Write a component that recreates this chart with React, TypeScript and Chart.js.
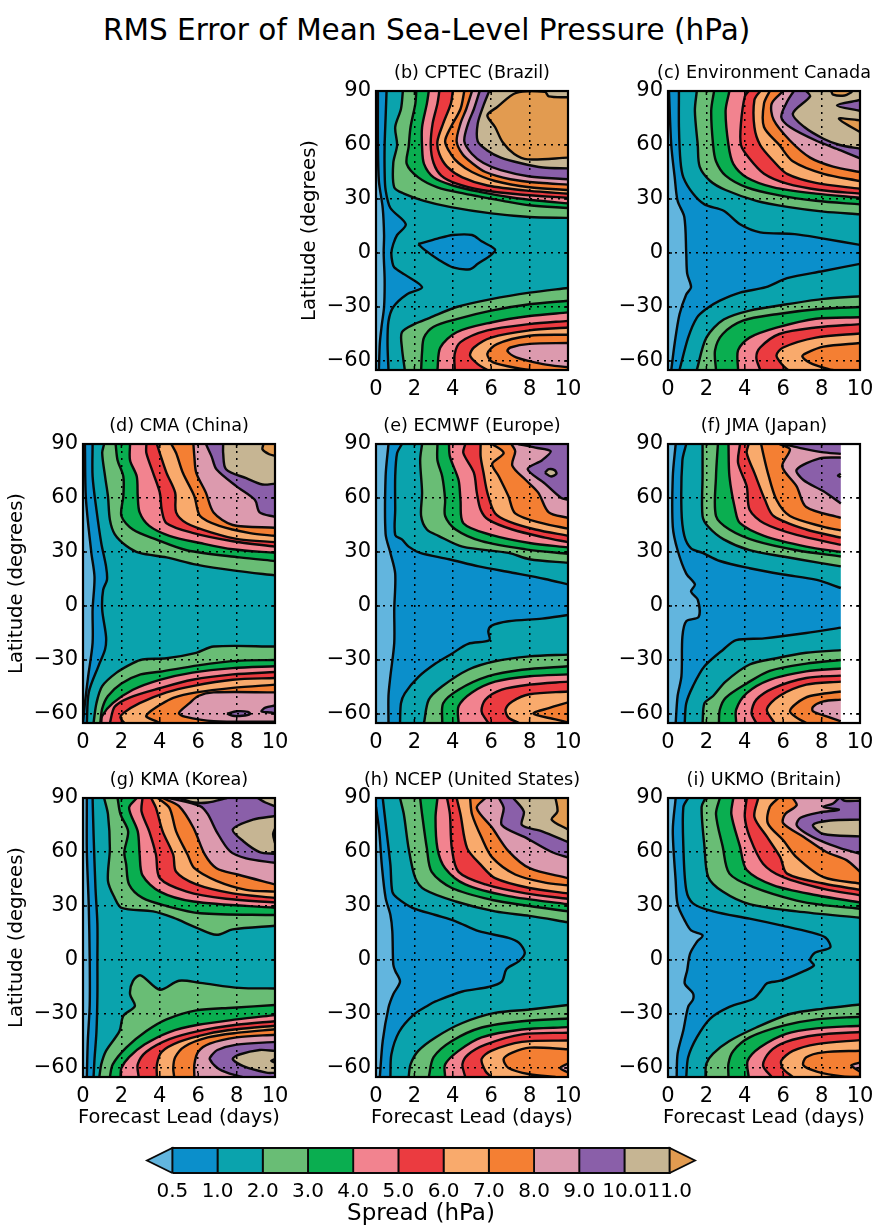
import React, { useEffect, useRef } from 'react';
import { Chart, registerables } from 'chart.js';

Chart.register(...registerables);

type Contour = [number, number[]];

const FONT = '"DejaVu Sans"';
const NO_DATA = 99;

const leadTicks = [0, 2, 4, 6, 8, 10];
const latTicks = [-60, -30, 0, 30, 60, 90];
const levels = [0.5, 1, 2, 3, 4, 5, 6, 7, 8, 9, 10, 11];
const underColor = '#62b5de';
const bandColors = ['#0b8fcb', '#0aa3ad', '#69bd75', '#0aae50', '#f2838f', '#eb3b40', '#f9aa6c', '#f47f33', '#dc9aae', '#8a5fa9', '#c6b593', '#e29b50'];

// each contour is [level, lead, lat, lead, lat, ...]
const cptec: Contour[] = [
	[0.5, [0.1, 90, 0.1, 60, 0.15, 40, 0.35, 25, 0.42, 10, 0.4, 0, 0.45, -15, 0.42, -30, 0.3, -40, 0.2, -50, 0.15, -65]],
	[1, [0.55, 90, 0.5, 75, 0.45, 60, 0.45, 45, 0.5, 35, 0.75, 25, 1.55, 16, 1.1, 10, 0.9, 5, 0.8, 0, 0.85, -5, 0.95, -8, 1.5, -12, 2.4, -19, 1.6, -23, 0.9, -30, 0.65, -38, 0.6, -50, 0.65, -65]],
	[0.5, [2.2, 5, 3.2, 8, 4, 10, 5, 10, 5.5, 6.5, 6.2, 2, 6, -1, 5.3, -6, 4.9, -9, 4, -8, 3.3, -4, 2.5, 2, 2.2, 5]],
	[2, [1.4, 90, 1.3, 80, 1, 70, 1.1, 60, 0.9, 50, 0.95, 36.5, 1.45, 33, 2.5, 29, 3.9, 25.5, 6, 22, 8, 20, 10, 19.5]],
	[2, [10, -19.4, 8, -22, 6, -25.6, 4.2, -30, 2.8, -36, 2, -39.5, 1.35, -44, 1.35, -52.5, 1.5, -65]],
	[3, [2.1, 90, 2.05, 83, 1.8, 70, 1.7, 59, 1.6, 49.5, 2.2, 42, 3.2, 36.5, 4.6, 33, 6.6, 29, 8, 26.5, 10, 25]],
	[3, [10, -26.5, 8, -28.5, 6, -32, 4.2, -36.7, 3, -41, 2.5, -47, 2.4, -55, 2.35, -65]],
	[4, [2.75, 90, 2.65, 83, 2.4, 70, 2.4, 59, 2.5, 49.5, 3, 42, 4, 37.5, 5.4, 34, 7, 31, 8.5, 29, 10, 27.6]],
	[4, [10, -33, 8, -35, 6, -38.6, 4.2, -44, 3.35, -52.5, 3.2, -65]],
	[5, [3.3, 90, 3.2, 83, 2.95, 72, 2.85, 60, 3, 50, 3.4, 43, 4.2, 38.5, 5.5, 35, 7.5, 32.5, 10, 30.6]],
	[5, [10, -37.7, 8, -39.5, 5.8, -43, 4.4, -49.5, 4.1, -56, 4.1, -65]],
	[6, [4, 90, 3.9, 83, 3.5, 72, 3.2, 62, 3.3, 55, 3.7, 48, 4.5, 42, 5.8, 37.5, 8, 34.5, 10, 33]],
	[6, [10, -41.4, 8, -43, 6, -47, 5.1, -52.5, 4.9, -57, 5.3, -61.7, 5.8, -65]],
	[7, [4.6, 90, 4.4, 80, 3.9, 70, 3.6, 62, 3.9, 55, 4.3, 50, 5, 45, 6.2, 40, 8, 36.5, 10, 35]],
	[7, [10, -45.4, 8, -46, 6.3, -50.6, 5.8, -56, 6.1, -60.8, 7.7, -64.6, 8, -65]],
	[8, [5, 90, 4.7, 80, 4.4, 72, 4.2, 62, 4.5, 55, 5, 50, 5.7, 45, 7, 41, 8.5, 39, 10, 38]],
	[8, [10, -50, 8, -50.5, 7, -52.5, 6.85, -54.5, 7.3, -58, 8.7, -61.7, 10, -63.5]],
	[9, [5.4, 90, 5.1, 80, 4.8, 72, 4.6, 62, 5, 55, 5.6, 50, 6.5, 46, 8, 42.5, 10, 41]],
	[10, [5.9, 90, 5.6, 82, 5.3, 72, 5.3, 62, 5.8, 57, 6.5, 53, 7.5, 50, 8.7, 47.5, 10, 47]],
	[11, [10, 86.5, 9, 87, 8.8, 89.5, 7.3, 89, 6.3, 81, 5.8, 76.5, 6.2, 70, 6.6, 61.5, 7.2, 55, 7.9, 52, 10, 53]],
];

const canada: Contour[] = [
	[0.5, [0.05, 90, 0.17, 60, 0.35, 42, 0.5, 29, 0.85, 20, 0.95, 0, 1, -11.5, 1.2, -19, 0.95, -23, 0.6, -34, 0.35, -50, 0.17, -65]],
	[1, [0.57, 90, 0.57, 70, 0.65, 51, 0.8, 42, 1.3, 33, 1.9, 27, 2.9, 23.5, 3.75, 16, 4.8, 11.5, 6.6, 10.5, 8.1, 8, 10, 4.5]],
	[1, [10, -6, 8.1, -10, 6.2, -14, 5.1, -19, 3.75, -22, 2.7, -26.5, 2, -31, 1.5, -36, 1.05, -47, 0.6, -65]],
	[2, [1.5, 90, 1.4, 79, 1.55, 60, 1.65, 48, 2.2, 40, 3, 35, 4.6, 29, 6.3, 25.5, 8.1, 23, 10, 21.5]],
	[2, [10, -24, 8.1, -25.5, 6.2, -28.5, 4.25, -32, 2.9, -37, 2, -47, 1.5, -65]],
	[3, [2.4, 90, 2.25, 79, 2.35, 60, 2.5, 51, 3, 43, 4.1, 36.5, 5.8, 32, 7.7, 29, 10, 27]],
	[3, [10, -30, 8, -31, 5.65, -34, 3.9, -37.6, 2.85, -45, 2.45, -54, 2.5, -65]],
	[4, [3.2, 90, 3, 79, 3.15, 60, 3.4, 49.5, 4.1, 42, 5.5, 36.5, 7.7, 33, 10, 30.7]],
	[4, [10, -35.7, 7.7, -36.5, 5.65, -41.5, 4.25, -47, 3.65, -54, 3.65, -65]],
	[5, [4.2, 90, 4, 87, 3.8, 72, 3.8, 60, 4.2, 53, 5, 44, 6.2, 38.5, 7.9, 35, 10, 33]],
	[5, [10, -39.5, 7.7, -41.4, 5.8, -45, 4.8, -52.5, 4.6, -58, 4.8, -65]],
	[6, [4.8, 90, 4.5, 85, 4.5, 70, 4.8, 60, 5.5, 51, 6.2, 44, 7.7, 39, 10, 35.7]],
	[6, [10, -44.7, 7.7, -47, 6, -52.5, 5.65, -57, 6, -62.7, 6.25, -65]],
	[7, [5.3, 90, 5, 83, 5, 70, 5.8, 60, 6.5, 51, 8.1, 44, 10, 40]],
	[7, [10, -50, 8.1, -52, 7.2, -55.6, 7, -57.5, 7.4, -61, 8.4, -64.7, 8.6, -65]],
	[8, [6, 90, 5.4, 83, 5.5, 74, 6.35, 62.5, 7.4, 53, 8.6, 48, 10, 45]],
	[9, [6.55, 90, 6.2, 84, 5.9, 75.5, 6.35, 70, 7.7, 62.5, 9, 57, 10, 52.5]],
	[10, [7.2, 90, 7.4, 87, 6.5, 77.4, 7.1, 70, 8.1, 63.5, 8.95, 60, 10, 58]],
	[11, [8.5, 90, 8.6, 88, 9.2, 87.5, 9.5, 89, 9.6, 90]],
	[9, [10, 85, 8.8, 82, 10, 79]],
	[11, [10, 73.7, 8.9, 74.6, 10, 67.2]],
];

const cma: Contour[] = [
	[0.5, [0.1, 90, 0.15, 60, 0.43, 30, 0.6, 16, 0.5, -2, 0.5, -20.5, 0.27, -39, 0.1, -54, 0, -65]],
	[1, [0.5, 90, 0.5, 72, 0.7, 53.5, 0.95, 35, 1.2, 22, 1.25, 14.6, 1.05, 9, 1, -2, 1.2, -17, 1.15, -24, 0.8, -33.5, 0.3, -48, 0.2, -65]],
	[2, [1.1, 90, 1, 85, 1.15, 72, 1.3, 61, 1.4, 48, 1.65, 40, 2.25, 33.5, 2.95, 29.5, 4.35, 27, 5.9, 23, 8, 19.5, 10, 17]],
	[2, [10, -22.5, 6.8, -22.5, 5.9, -26, 4.35, -29, 3.1, -29.7, 2.6, -31.7, 1.75, -37, 1, -44.5, 0.7, -54, 0.55, -65]],
	[3, [1.7, 90, 1.8, 81, 2.1, 72, 2.1, 61, 2, 50, 2.6, 42.5, 3.8, 37, 5.4, 31, 8.15, 27, 10, 25]],
	[3, [10, -30, 8, -30.5, 6, -33, 4, -36.5, 3, -38, 2, -43, 1.3, -50, 1, -57, 0.9, -65]],
	[4, [2.45, 90, 2.45, 81, 2.8, 72, 2.85, 61, 2.95, 52, 3.45, 44.5, 4.5, 39, 6.1, 35, 7.8, 31.5, 10, 29.5]],
	[4, [10, -33.5, 7.8, -34.5, 5.7, -37, 4, -41, 2.6, -46.5, 1.55, -54, 1, -61, 0.95, -65]],
	[5, [3.3, 90, 3.3, 85, 3.65, 74, 4, 63, 4.1, 53.5, 4.35, 46, 5.75, 40.5, 7.8, 36, 10, 33]],
	[5, [10, -36.7, 7.8, -38, 5.7, -41, 4, -45.7, 2.4, -51, 1.65, -56, 1.4, -65]],
	[6, [3.85, 90, 4, 85, 4.35, 74, 4.8, 63, 4.85, 52, 5.4, 46, 6.8, 40.5, 8.15, 37, 10, 35.5]],
	[6, [10, -40, 7.8, -41, 5.7, -44.5, 4.35, -48, 2.95, -54, 2.1, -59.5, 1.95, -62, 2.15, -65]],
	[7, [4.6, 90, 4.85, 85, 5.2, 74, 5.8, 61, 6.1, 50, 7.1, 44.5, 8.7, 40.5, 10, 39]],
	[7, [10, -43.7, 7.8, -45.5, 5.9, -48, 4.7, -51, 4, -55, 3.4, -59.5, 3.3, -61.5, 3.8, -64, 4, -65]],
	[8, [5.75, 90, 5.8, 83, 5.9, 74, 6.4, 63, 6.8, 52, 7.8, 45, 10, 43.5]],
	[8, [10, -48, 6.8, -48, 6, -50, 5.55, -54, 5, -59.5, 5.3, -61.5, 6.8, -64, 10, -64.3]],
	[9, [6.4, 90, 6.7, 83, 6.95, 76, 8, 66.5, 8.95, 59, 9.2, 52, 10, 49.5]],
	[9, [7.5, -59.8, 8, -58.5, 8.6, -58.8, 8.7, -60, 8.3, -61, 7.8, -61, 7.5, -59.8]],
	[9, [10, -55.3, 9.5, -56.5, 9.3, -58.5, 9.8, -59.2, 10, -59.5]],
	[10, [7.3, 90, 7.3, 85, 7.45, 76, 8.5, 71, 9.35, 67.5, 10, 68]],
	[11, [9.4, 90, 9.35, 87, 9.7, 84.3, 10, 83.5]],
];

const ecmwf: Contour[] = [
	[0.5, [0.65, 90, 0.5, 72, 0.5, 40, 0.75, 29.5, 1, 18, 0.95, -2, 0.95, -20.5, 0.75, -39, 0.65, -50, 0.65, -65]],
	[1, [1.35, 90, 1.1, 85, 1, 72, 1, 53.5, 1, 39.5, 1.35, 37, 1.7, 33, 2.3, 29.5, 3.8, 26, 5.35, 22, 7.1, 18.5, 8.8, 15, 10, 12]],
	[1, [10, -5, 8.65, -7, 6.9, -8.5, 6, -11, 5.85, -14, 5.9, -19, 4.8, -21, 3.95, -26.5, 3.1, -32, 2.2, -39.5, 1.5, -48.5, 1.3, -54, 1.25, -65]],
	[2, [2.4, 90, 2.3, 81, 2.4, 63, 2.35, 50, 2.65, 42.5, 3.25, 39, 4.5, 33, 6.9, 29.5, 8, 26, 10, 24]],
	[2, [10, -27, 8, -28, 6.2, -30.7, 4.8, -35.4, 3.45, -44.6, 2.75, -52, 2.5, -65]],
	[3, [3.2, 90, 3.2, 81, 3.45, 72, 3.6, 59, 3.6, 50, 4.15, 42.5, 5.5, 36, 7.8, 31.5, 10, 29]],
	[3, [10, -33.5, 7.6, -35.4, 5.85, -39, 4.3, -46.5, 3.5, -54, 3.45, -65]],
	[4, [3.8, 90, 3.85, 83, 4.3, 70, 4.4, 59, 4.55, 46, 6, 39.5, 8, 35, 10, 32.6]],
	[4, [10, -38, 8, -39, 6.2, -42, 5, -48, 4.3, -55.7, 4.3, -65]],
	[5, [4.65, 90, 4.55, 85, 5.1, 74, 5.25, 63, 5.45, 53.5, 5.85, 48, 7.1, 42.5, 8.8, 38, 10, 35.5]],
	[5, [10, -42, 8, -43.7, 6.55, -46.5, 5.7, -52, 5.5, -58.5, 5.85, -65]],
	[6, [5.45, 90, 5.45, 83, 5.6, 74, 5.8, 63, 6.2, 51.5, 6.9, 47, 8.3, 42.5, 10, 39]],
	[6, [10, -47.5, 8, -49, 7.1, -53, 6.75, -57.5, 6.9, -62, 7.45, -65]],
	[7, [6.05, 90, 6.65, 85, 6.05, 79, 6.4, 72, 6.9, 61, 7.25, 51.5, 8.65, 46, 10, 43]],
	[7, [10, -53.5, 9, -56.7, 8.2, -59.8, 9.35, -63, 10, -64.7]],
	[8, [7.05, 90, 7.25, 86, 7.1, 78, 7.8, 70, 8.45, 63, 9, 52, 10, 49]],
	[9, [7.4, 90, 8.3, 88, 9.1, 86, 8.65, 81, 7.9, 76, 8.8, 68, 9.65, 60, 10, 59]],
	[10, [8.8, 74, 9, 76, 9.3, 75.5, 9.4, 73.5, 9.1, 72, 8.8, 74]],
];

const jma: Contour[] = [
	[0.5, [0.4, 90, 0.25, 72, 0.25, 44, 0.5, 31, 0.95, 18, 1.4, 12, 1.2, 8, 1.55, 3.5, 1.6, -6, 0.95, -8.5, 0.75, -17, 0.7, -39, 0.5, -50, 0.4, -65]],
	[1, [0.95, 90, 0.75, 81, 0.7, 53.5, 0.85, 39, 1.2, 32, 1.8, 29.5, 2.7, 25, 4.25, 21, 6, 17.5, 7.75, 14.5, 9, 10]],
	[1, [9, -12, 7.2, -15, 5, -18, 3.55, -19, 2.9, -24, 1.9, -33.5, 1.3, -44.5, 0.95, -54, 0.87, -65]],
	[2, [1.8, 90, 1.8, 72, 1.8, 50, 2.1, 44, 2.9, 37, 4.25, 31, 6, 27.5, 7.9, 24, 9, 22]],
	[2, [9, -24.5, 7.2, -26, 5.65, -29, 4.25, -32.5, 3, -42, 2.35, -50, 1.9, -54, 1.8, -65]],
	[3, [2.6, 90, 2.5, 72, 2.5, 50, 3.2, 42.5, 4.6, 36, 6.7, 31, 9, 27.5]],
	[3, [9, -30, 7.2, -32, 5.3, -36, 4.1, -43, 3, -51, 2.7, -57.5, 2.65, -65]],
	[4, [3.15, 90, 3.2, 72, 3.5, 53.5, 3.75, 46, 5, 39, 7.2, 33, 9, 30]],
	[4, [9, -34.7, 7.2, -36.3, 5.3, -41, 4.1, -48.4, 3.55, -57.5, 3.55, -65]],
	[5, [3.75, 90, 3.65, 79.5, 4.1, 66.5, 4.25, 53.5, 5, 46, 6.7, 39.5, 9, 34]],
	[5, [9, -38.7, 7.2, -40, 5.5, -45.6, 4.6, -52, 4.35, -59.5, 4.6, -65]],
	[6, [4.2, 90, 4.1, 85, 4.5, 74, 5.05, 59, 5.5, 50, 7.2, 42.5, 9, 38]],
	[6, [9, -42, 7.2, -43.7, 5.8, -50, 5.15, -57.5, 5.55, -65]],
	[7, [4.85, 90, 4.95, 85, 5.2, 74, 5.65, 59, 6.35, 50, 8.1, 44, 9, 42]],
	[7, [9, -47.5, 7.4, -50, 6.7, -54, 6.35, -58.5, 6.7, -62, 7.2, -65]],
	[8, [5.8, 90, 6.35, 87, 5.95, 77.5, 6.7, 66.5, 7.2, 55, 9, 49]],
	[8, [9, -52, 8.1, -53, 7.55, -56, 7.55, -58.5, 8.45, -62, 9, -64]],
	[9, [5.95, 90, 6.8, 88, 8, 85.5, 9, 84.5]],
	[9, [9, 82.5, 7.9, 82, 6.7, 75.7, 7.05, 70, 8.1, 63.7, 9, 57]],
	[10, [9, 73.5, 8.85, 72.5, 9, 71.5]],
	[NO_DATA, [9, 95, 11, 95, 11, -70, 9, -70, 9, 95]],
];

const kma: Contour[] = [
	[0.5, [0.2, 90, 0.2, 60, 0.3, 30, 0.35, 0, 0.35, -25, 0.25, -45, 0.2, -65]],
	[1, [0.5, 90, 0.55, 70, 0.65, 40, 0.75, 20, 0.75, 0, 0.75, -20, 0.7, -40, 0.6, -55, 0.55, -65]],
	[2, [1.1, 90, 1.3, 81, 1.4, 62, 1.3, 44, 1.65, 34.5, 2, 29, 3.65, 27, 4.7, 23.5, 5.9, 18, 6.95, 14, 7.8, 17, 10, 19]],
	[2, [10, -15.8, 8.15, -15.5, 6.1, -12.7, 5, -11.5, 4, -16.5, 3, -8.5, 2.6, -11.7, 2.45, -19, 2.7, -25.6, 2.1, -31, 1.9, -39.5, 1.2, -50.5, 0.95, -58, 0.85, -65]],
	[3, [1.8, 90, 1.95, 81, 2.35, 71.5, 2.15, 60, 2.25, 53, 2.4, 42, 3.1, 34.5, 4.35, 30, 6.1, 26, 10, 25]],
	[3, [10, -25, 7.8, -26.5, 5.9, -28, 4.35, -33, 3.3, -39.5, 2.25, -48.7, 1.55, -58, 1.4, -65]],
	[4, [2.8, 90, 2.4, 84.5, 2.85, 71.5, 2.95, 58.5, 3.1, 47, 4, 38, 5.75, 32.5, 10, 29]],
	[4, [10, -30.6, 8, -33, 6, -36, 4.5, -40, 3.2, -47, 2.4, -54, 2, -60, 1.95, -65]],
	[5, [3.1, 90, 3.05, 82.5, 3.45, 71.5, 3.8, 58.5, 4, 45.5, 5.4, 38, 7.45, 34, 10, 32]],
	[5, [10, -34, 8, -36, 6, -39.5, 4.5, -44, 3.3, -51, 2.85, -58, 2.9, -65]],
	[6, [3.55, 90, 3.8, 84.5, 4.15, 71.5, 4.7, 58.5, 4.85, 49, 5.9, 42, 7.8, 37, 10, 34.5]],
	[6, [10, -36.5, 8, -38.5, 6.5, -41, 5, -45.5, 4.1, -51, 3.85, -58, 3.85, -65]],
	[7, [3.9, 90, 4.5, 84.5, 4.85, 71.5, 5.45, 58.5, 5.8, 51, 6.95, 44, 8.5, 39, 10, 38]],
	[7, [10, -38.5, 8, -40.5, 6.5, -43, 5.3, -48, 4.8, -54, 4.7, -60, 4.75, -65]],
	[8, [4.15, 90, 5, 85.5, 5.75, 73.5, 6.35, 58.5, 6.95, 51, 8.05, 47.5, 10, 42]],
	[8, [10, -41.5, 8, -43, 6.6, -46.5, 6, -51, 5.8, -58, 5.8, -65]],
	[9, [4.5, 90, 6.1, 85.5, 6.5, 81, 6.95, 71.5, 7.65, 60.5, 8.5, 56.5, 10, 54]],
	[9, [10, -45.5, 8, -47, 7, -50, 6.7, -53, 6.6, -55, 7, -60, 7.6, -63, 8.3, -65]],
	[10, [5, 90, 5.8, 87.5, 6.5, 87.5, 7.5, 90]],
	[10, [9.1, 90, 9.5, 87.5, 10, 85.5]],
	[10, [10, 80, 8.85, 78, 7.8, 72.5, 8.35, 66, 9.2, 60, 10, 59]],
	[10, [10, -50.5, 9.2, -50, 8.15, -52.5, 7.8, -55, 8.35, -59, 9.55, -62.6, 10, -62.7]],
	[11, [10, 73, 9.9, 70, 10, 65]],
	[11, [10, -55, 9.8, -56, 10, -57]],
];

const ncep: Contour[] = [
	[0.5, [0, 85, 0.17, 71.5, 0.3, 53, 0.5, 34.5, 0.75, 25, 0.85, 16, 0.9, -2.5, 1, -6, 1.25, -12, 0.9, -19, 0.65, -26.5, 0.35, -45, 0.2, -65]],
	[1, [0.35, 90, 0.55, 71.5, 0.75, 53, 0.85, 38, 1.1, 34.5, 1.9, 29, 3.1, 25, 4.15, 21.5, 5.35, 16, 6.9, 12.3, 7.45, 9.5, 7.75, 4, 7.45, -0.6, 6.8, -5, 6.55, -12, 5.85, -15, 4.5, -17.5, 3.1, -23, 2.75, -25, 1.95, -30.5, 1.2, -40, 0.8, -52.5, 0.75, -65]],
	[2, [1.25, 90, 1.45, 81, 1.7, 62, 2.05, 45.5, 2.55, 39, 4.15, 32.5, 6.2, 27, 8, 24.5, 10, 21]],
	[2, [10, -25, 8, -27.5, 6.2, -29.4, 4.5, -35, 3.1, -43, 2.2, -50.5, 1.8, -58, 1.7, -65]],
	[3, [2.3, 90, 2.4, 81, 2.65, 62, 2.9, 49, 3.95, 40, 6, 33.5, 8, 30, 10, 27]],
	[3, [10, -32.5, 7.6, -34, 5.5, -37.5, 3.95, -45, 3, -54, 2.75, -65]],
	[4, [3.2, 90, 3.1, 79, 3.2, 62, 3.6, 51, 4.65, 42, 6.9, 35.5, 10, 31]],
	[4, [10, -37.3, 7.6, -38.6, 5.5, -43, 4.3, -50.5, 3.6, -58, 3.6, -65]],
	[5, [3.7, 90, 3.85, 81, 3.95, 62, 4.3, 49, 5.7, 42, 7.8, 37, 10, 34]],
	[5, [10, -40.4, 7.6, -41.3, 5.7, -47, 4.8, -52.5, 4.5, -58, 4.65, -65]],
	[6, [4.2, 90, 4.4, 81, 4.75, 62, 5.45, 53, 6.2, 45.5, 8, 40, 10, 37]],
	[6, [10, -44.7, 7.6, -45.5, 6, -50.5, 5.5, -55, 5.7, -61.7, 6, -65]],
	[7, [4.9, 90, 5, 81, 5.5, 68, 6.05, 57, 7.25, 47.5, 8.8, 43, 10, 41.5]],
	[7, [10, -49.6, 8, -48.7, 7.1, -51.5, 6.65, -55, 6.9, -60, 8, -63.5, 9.35, -65]],
	[8, [5.7, 90, 5.25, 84.5, 6.05, 73.5, 6.9, 60.5, 8, 51, 10, 45.5]],
	[8, [10, -57.5, 9.6, -60, 10, -62.5]],
	[9, [6.4, 90, 6.65, 84.5, 6.55, 75, 7.8, 68, 9.15, 60, 10, 57]],
	[10, [7.15, 90, 7.7, 82.5, 7.6, 75, 8.65, 71.5, 10, 65.5]],
	[11, [9.35, 90, 9.45, 82.5, 9.15, 78, 10, 72.5]],
];

const ukmo: Contour[] = [
	[0.5, [0.4, 90, 0.25, 72, 0.4, 44, 0.5, 31, 0.87, 22, 1.2, 16.5, 1.8, 13.7, 1.5, 10, 1.15, 3.5, 1, -5.7, 0.87, -13, 1.3, -18.5, 1.3, -22, 1.05, -26, 0.8, -39, 0.5, -52, 0.45, -65]],
	[1, [1.05, 90, 0.8, 85, 0.8, 63, 0.95, 39, 1.3, 31.5, 2.35, 27, 4.25, 23, 6, 19, 7.4, 15.5, 8.2, 12.5, 8.45, 7, 7.65, 4, 7.4, 0, 7.6, -3, 6.9, -7, 5.85, -11.5, 5.15, -13, 4.85, -17, 4.45, -21.5, 3.2, -26, 2.2, -32.5, 1.5, -43, 1.05, -54, 0.95, -65]],
	[2, [1.95, 90, 1.75, 85, 1.9, 63, 2.1, 46, 2.85, 38, 4.25, 31, 6.7, 27, 10, 23.5]],
	[2, [10, -24.7, 8.1, -27, 6.35, -30, 4.6, -37.5, 3.2, -45, 2.35, -52, 2, -57.5, 1.95, -65]],
	[3, [2.7, 90, 2.5, 81, 2.85, 63, 3.2, 48, 4.45, 40.5, 6.7, 33, 8.1, 30.5, 10, 28.5]],
	[3, [10, -31.5, 7.75, -33, 6, -36.5, 4.25, -43, 3.4, -50.5, 3.15, -57.5, 3.15, -65]],
	[4, [3.4, 90, 3.3, 81, 3.75, 63, 4.1, 50, 5.5, 41.5, 7.75, 36, 10, 32]],
	[4, [10, -36.5, 7.75, -38, 6.15, -41, 4.8, -48.5, 4.15, -56, 4.2, -65]],
	[5, [4.1, 90, 4, 79.5, 4.25, 68.5, 4.95, 53.5, 6, 46, 8.1, 39.5, 10, 36]],
	[5, [10, -40, 7.75, -41.7, 6.15, -45.5, 5.3, -51, 4.95, -58.5, 5.4, -65]],
	[6, [4.7, 90, 4.5, 79.5, 5.15, 68.5, 5.85, 57, 6.2, 48, 8.1, 42.5, 10, 39]],
	[6, [10, -44.5, 7.75, -46.7, 6.5, -50.5, 5.9, -56, 6, -60.5, 6.5, -65]],
	[7, [5.75, 90, 5.3, 85, 5.2, 76, 6, 66.5, 6.7, 57, 8.1, 46, 10, 42.5]],
	[7, [10, -50.4, 8.1, -51.3, 7.2, -54, 7.05, -58.5, 7.75, -62, 9.1, -64.7, 10, -65]],
	[8, [6.5, 90, 6.7, 86, 6.1, 81, 6, 76, 7.05, 68.5, 8.25, 60, 9.3, 55.5, 10, 49]],
	[8, [10, -57, 9.55, -58.5, 9.7, -60, 10, -62]],
	[9, [8.9, 90, 8.6, 87, 8.1, 85, 8.9, 83.5, 7.9, 82, 6.9, 79, 6.7, 75, 7.1, 71, 8, 66, 9, 62, 10, 59]],
	[10, [10, 78, 8.45, 77.5, 7.55, 75, 8.1, 70, 10, 68.7]],
	[10, [9, 90, 9.2, 88.5, 10, 88.5]],
];

const toPoints = (flat: number[]) => {
	const pts = [];
	for (let i = 0; i < flat.length; i += 2) pts.push({ x: flat[i], y: flat[i + 1] });
	return pts;
};

// which side of the frame a contour end leaves through: bottom, right, top, left
const sideOf = (p: any) => (p.y <= -65 ? 0 : p.y >= 90 ? 2 : p.x >= 9 ? 1 : p.x <= 0 ? 3 : -1);
const outward = (p: any, side: number) => [{ x: p.x, y: -70 }, { x: 11, y: p.y }, { x: p.x, y: 95 }, { x: -1, y: p.y }][side];
const corners = [{ x: 11, y: -70 }, { x: 11, y: 95 }, { x: -1, y: 95 }, { x: -1, y: -70 }];

// polygon of the region above a contour: walk round the frame from its end back to its start
const closeRegion = (pts: any[]) => {
	const first = pts[0];
	const last = pts[pts.length - 1];
	if (first.x === last.x && first.y === last.y) return pts;
	const from = sideOf(last);
	const to = sideOf(first);
	const out = [...pts, outward(last, from)];
	for (let s = from; s !== to; s = (s + 1) % 4) out.push(corners[s]);
	out.push(outward(first, to));
	return out;
};

const colorOf = (level: number) => (level === NO_DATA ? '#ffffff' : bandColors[levels.indexOf(level)]);

const buildDatasets = (contours: Contour[]) => {
	const fills = contours.map(([level, flat]) => ({
		data: closeRegion(toPoints(flat)),
		showLine: true,
		fill: 'shape',
		backgroundColor: colorOf(level),
		borderWidth: 0,
		tension: level === NO_DATA ? 0 : 0.3,
		pointRadius: 0,
		clip: 0,
	}));
	const lines = contours
		.filter(([level]) => level !== NO_DATA)
		.map(([, flat]) => ({
			data: toPoints(flat),
			showLine: true,
			fill: false,
			borderColor: '#0a0a0a',
			borderWidth: 2.4,
			borderJoinStyle: 'round',
			tension: 0.3,
			pointRadius: 0,
			clip: 0,
		}));
	const all: any[] = [...fills, ...lines];
	// chart.js paints the lowest order last
	all.forEach((d, i) => (d.order = all.length - i));
	return all;
};

const framePlugin = {
	id: 'frame',
	beforeDatasetsDraw(chart: any) {
		const { ctx, chartArea: a } = chart;
		ctx.fillStyle = underColor;
		ctx.fillRect(a.left, a.top, a.right - a.left, a.bottom - a.top);
	},
	afterDraw(chart: any) {
		const { ctx, chartArea: a, scales } = chart;
		ctx.save();
		ctx.strokeStyle = '#000';
		ctx.lineWidth = 1.5;
		ctx.beginPath();
		leadTicks.forEach((v) => {
			const x = scales.x.getPixelForValue(v);
			ctx.moveTo(x, a.top);
			ctx.lineTo(x, a.top + 4);
			ctx.moveTo(x, a.bottom);
			ctx.lineTo(x, a.bottom - 4);
		});
		latTicks.forEach((v) => {
			const y = scales.y.getPixelForValue(v);
			ctx.moveTo(a.left, y);
			ctx.lineTo(a.left + 4, y);
			ctx.moveTo(a.right, y);
			ctx.lineTo(a.right - 4, y);
		});
		ctx.stroke();
		ctx.lineWidth = 2.2;
		ctx.strokeRect(a.left, a.top, a.right - a.left, a.bottom - a.top);
		ctx.restore();
	},
};

// the canvas is symmetric round the plot so the full-width title and subtitle centre on it
const SIDE_GUTTER = 80;
const TOP_GUTTER = 32;
const TICK_GUTTER = 28;
const SUBTITLE_H = 28;
const PLOT_W = 192;
const PLOT_H = 279;

interface PanelProps {
	title: string;
	contours: Contour[];
	left: number;
	top: number;
	yTitle?: boolean;
	xTitle?: boolean;
}

const Panel: React.FC<PanelProps> = ({ title, contours, left, top, yTitle, xTitle }) => {
	const canvasRef = useRef<HTMLCanvasElement>(null);

	useEffect(() => {
		if (!canvasRef.current) return;
		const chart = new Chart(canvasRef.current, {
			type: 'scatter',
			data: { datasets: buildDatasets(contours) as any },
			plugins: [framePlugin],
			options: {
				responsive: false,
				animation: false,
				layout: { padding: { bottom: xTitle ? 0 : SUBTITLE_H } },
				elements: { line: { capBezierPoints: false } },
				plugins: {
					legend: { display: false },
					tooltip: { enabled: false },
					title: {
						display: true,
						text: title,
						color: '#000',
						font: { family: FONT, size: 17.6, weight: 'normal', lineHeight: 1.2 },
						padding: { top: 4, bottom: 6.9 },
					},
					subtitle: {
						display: !!xTitle,
						position: 'bottom',
						text: 'Forecast Lead (days)',
						color: '#000',
						font: { family: FONT, size: 19.4, weight: 'normal', lineHeight: 1.2 },
						padding: { top: 1, bottom: 3.72 },
					},
				},
				scales: {
					x: {
						type: 'linear',
						min: 0,
						max: 10,
						afterBuildTicks: (s: any) => {
							s.ticks = leadTicks.map((value) => ({ value }));
						},
						afterFit: (s: any) => {
							s.height = TICK_GUTTER;
						},
						grid: { color: '#000', lineWidth: 1.5, z: 1, drawTicks: false },
						border: { display: false, dash: [2, 5] },
						ticks: { color: '#000', font: { family: FONT, size: 21 }, padding: 7, maxRotation: 0, autoSkip: false },
					},
					y: {
						type: 'linear',
						min: -65,
						max: 90,
						afterBuildTicks: (s: any) => {
							s.ticks = latTicks.map((value) => ({ value }));
						},
						afterFit: (s: any) => {
							s.width = SIDE_GUTTER;
						},
						grid: { color: '#000', lineWidth: 1.5, z: 1, drawTicks: false },
						border: { display: false, dash: [2, 5] },
						ticks: {
							color: '#000',
							font: { family: FONT, size: 21 },
							padding: 5,
							autoSkip: false,
							callback: (v: any) => (v < 0 ? '\u2212' + Math.abs(v) : String(v)),
						},
						title: {
							display: !!yTitle,
							text: 'Latitude (degrees)',
							color: '#000',
							font: { family: FONT, size: 19.6 },
							padding: { top: 2.5, bottom: 0 },
						},
					},
					// empty axis that only keeps the right gutter inside the title's box
					rightGutter: {
						type: 'linear',
						axis: 'y',
						position: 'right',
						min: -65,
						max: 90,
						afterFit: (s: any) => {
							s.width = SIDE_GUTTER;
						},
						grid: { display: false, drawTicks: false },
						border: { display: false },
						ticks: { display: false },
					},
				},
			} as any,
		});
		return () => chart.destroy();
	}, [title, contours, yTitle, xTitle]);

	return (
		<canvas
			ref={canvasRef}
			width={SIDE_GUTTER * 2 + PLOT_W}
			height={TOP_GUTTER + PLOT_H + TICK_GUTTER + SUBTITLE_H}
			style={{ position: 'absolute', left: left - SIDE_GUTTER, top: top - TOP_GUTTER }}
		/>
	);
};

const ColorBar: React.FC = () => {
	const canvasRef = useRef<HTMLCanvasElement>(null);

	useEffect(() => {
		if (!canvasRef.current) return;
		const last = levels.length - 1;
		const shapes = [
			{ color: underColor, data: [{ x: 0, y: 0 }, { x: 0, y: 1 }, { x: -0.56, y: 0.5 }, { x: 0, y: 0 }] },
			{ color: bandColors[last], data: [{ x: last, y: 0 }, { x: last, y: 1 }, { x: last + 0.56, y: 0.5 }, { x: last, y: 0 }] },
			...bandColors.slice(0, -1).map((color, i) => ({
				color,
				data: [{ x: i, y: 0 }, { x: i + 1, y: 0 }, { x: i + 1, y: 1 }, { x: i, y: 1 }, { x: i, y: 0 }],
			})),
		];
		const chart = new Chart(canvasRef.current, {
			type: 'scatter',
			data: {
				datasets: shapes.map((s) => ({
					data: s.data,
					showLine: true,
					fill: 'shape',
					backgroundColor: s.color,
					borderColor: '#0a0a0a',
					borderWidth: 1.8,
					pointRadius: 0,
					clip: false,
				})) as any,
			},
			options: {
				responsive: false,
				animation: false,
				layout: { padding: { left: 27, right: 45, top: 13 } },
				plugins: { legend: { display: false }, tooltip: { enabled: false } },
				scales: {
					y: { display: false, min: 0, max: 1 },
					x: {
						type: 'linear',
						min: -0.56,
						max: last + 0.56,
						afterBuildTicks: (s: any) => {
							s.ticks = levels.map((_, value) => ({ value }));
						},
						afterFit: (s: any) => {
							s.height = 62;
						},
						grid: { display: false, drawTicks: false },
						border: { display: false },
						ticks: {
							color: '#000',
							font: { family: FONT, size: 20 },
							padding: 7,
							maxRotation: 0,
							autoSkip: false,
							callback: (v: any) => levels[v].toFixed(1),
						},
						title: {
							display: true,
							text: 'Spread (hPa)',
							color: '#000',
							font: { family: FONT, size: 23 },
							padding: { top: 0, bottom: 7.2 },
						},
					},
				},
			} as any,
		});
		return () => chart.destroy();
	}, []);

	return <canvas ref={canvasRef} width={620} height={100} style={{ position: 'absolute', left: 120, top: 1135 }} />;
};

export default function App() {
	return (
		<div style={{ position: 'absolute', left: 0, top: 0, width: 876, height: 1226, overflow: 'hidden', background: '#fff' }}>
			<div
				style={{
					position: 'absolute',
					left: 103,
					top: 12,
					fontFamily: FONT,
					fontSize: 29.5,
					lineHeight: '36px',
					whiteSpace: 'nowrap',
					color: '#000',
				}}
			>
				RMS Error of Mean Sea-Level Pressure (hPa)
			</div>
			<Panel title="(b) CPTEC (Brazil)" contours={cptec} left={376} top={91} yTitle />
			<Panel title="(c) Environment Canada" contours={canada} left={668} top={91} />
			<Panel title="(d) CMA (China)" contours={cma} left={83} top={444} yTitle />
			<Panel title="(e) ECMWF (Europe)" contours={ecmwf} left={376} top={444} />
			<Panel title="(f) JMA (Japan)" contours={jma} left={668} top={444} />
			<Panel title="(g) KMA (Korea)" contours={kma} left={83} top={798} yTitle xTitle />
			<Panel title="(h) NCEP (United States)" contours={ncep} left={376} top={798} xTitle />
			<Panel title="(i) UKMO (Britain)" contours={ukmo} left={668} top={798} xTitle />
			<ColorBar />
		</div>
	);
}
